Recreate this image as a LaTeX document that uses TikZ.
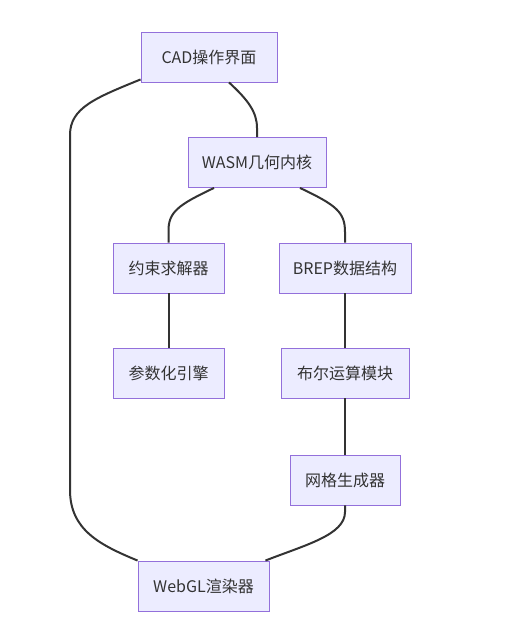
\documentclass[tikz,border=0pt]{standalone}
\usepackage{fontspec}
\setmainfont{Noto Sans CJK SC}
\usetikzlibrary{calc}
\definecolor{nodefill}{HTML}{ECECFF}
\definecolor{nodeline}{HTML}{9370DB}
\definecolor{edgeline}{HTML}{333333}
\definecolor{txt}{HTML}{333333}
\begin{document}
\begin{tikzpicture}[x=1pt,y=-1pt,
  box/.style={draw=nodeline,fill=nodefill,line width=0.9pt,minimum height=50pt,inner sep=0pt,
    text=txt,font=\fontsize{16}{19}\selectfont},
  edge/.style={draw=edgeline,line width=2pt}]
\path[use as bounding box] (0,0) rectangle (507,617);
\node[box,minimum width=136pt] (cad) at (209,57) {CAD操作界面};
\node[box,minimum width=138pt] (wasm) at (257,162.5) {WASM几何内核};
\node[box,minimum width=111pt] (yue) at (168.5,268) {约束求解器};
\node[box,minimum width=132pt] (brep) at (345,268) {BREP数据结构};
\node[box,minimum width=111pt] (param) at (168.5,373) {参数化引擎};
\node[box,minimum width=128pt] (bool) at (345,373) {布尔运算模块};
\node[box,minimum width=110pt] (mesh) at (345,480) {网格生成器};
\node[box,minimum width=131pt] (webgl) at (203.5,586) {WebGL渲染器};
\draw[edge] ([xshift=20pt]cad.south) .. controls (248,100) and (257,112) .. (257,128) -- (wasm.north);
\draw[edge] ([yshift=3pt]cad.south west) .. controls (95,98) and (70,108) .. (70,135) -- (70,490)
  .. controls (70,530) and (100,545) .. (webgl.north west);
\draw[edge] ([xshift=-43pt]wasm.south) .. controls (178,205) and (168,212) .. (168.5,232) -- (yue.north);
\draw[edge] ([xshift=43pt]wasm.south) .. controls (336,205) and (345,212) .. (345,232) -- (brep.north);
\draw[edge] (yue) -- (param);
\draw[edge] (brep) -- (bool);
\draw[edge] (bool) -- (mesh);
\draw[edge] (mesh.south) -- (345,512) .. controls (345,535) and (305,545) .. ([xshift=-4pt]webgl.north east);
\end{tikzpicture}
\end{document}
